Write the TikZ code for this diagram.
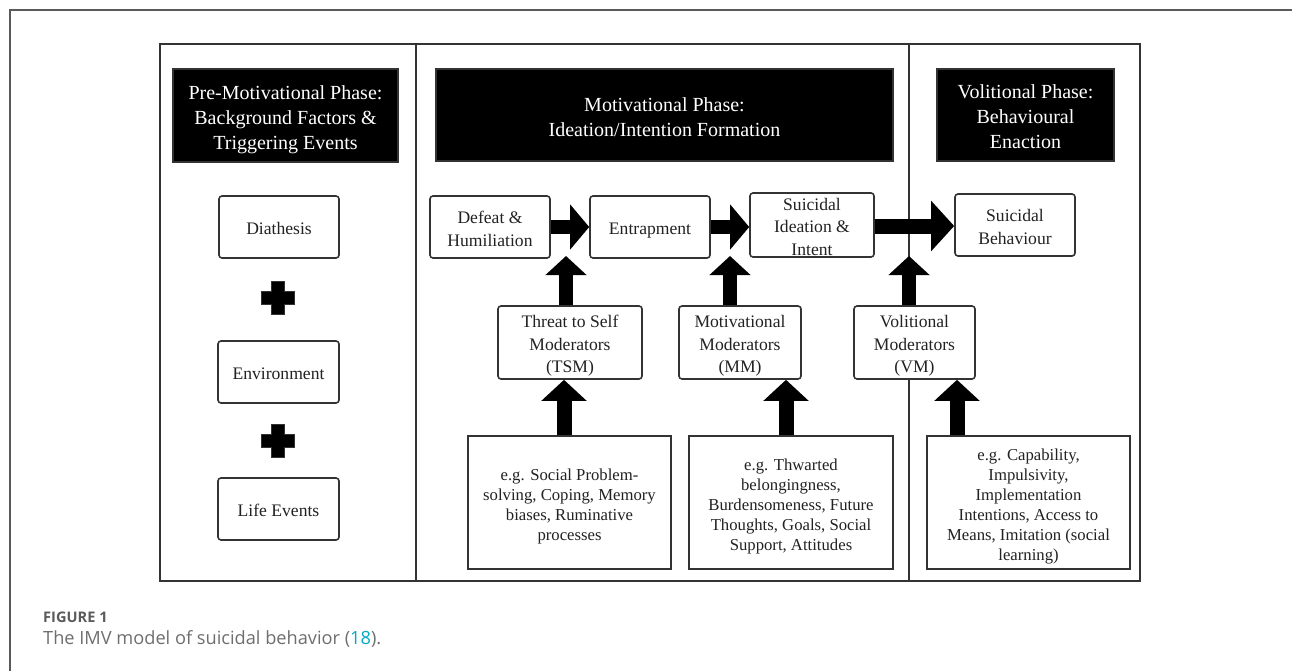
\documentclass[tikz,border=0pt]{standalone}
\usepackage{fontspec}
\setmainfont{Liberation Serif}
\newfontfamily\capfont{Open Sans}
\usetikzlibrary{arrows.meta,calc}
\definecolor{edge}{HTML}{333333}
\definecolor{txt}{HTML}{222222}
\definecolor{capgrey}{HTML}{6E6E6E}
\definecolor{capdark}{HTML}{5A5A5A}
\definecolor{linkcyan}{HTML}{00A9C2}
% struts that fix the first line's height and the last line's depth
\newcommand\fs{\rule{0pt}{1.16em}}
\newcommand\ls{\rule[-0.26em]{0pt}{0.26em}}
\tikzset{
  phasebox/.style={draw=edge, line width=1.4pt, fill=black, text=white, align=center,
    font=\fontsize{20}{25}\selectfont, inner sep=0pt},
  roundbox/.style={draw=edge, line width=1.6pt, rounded corners=3pt, fill=white, text=txt,
    align=center, font=\fontsize{17.6}{22.5}\selectfont, inner sep=0pt},
  examplebox/.style={draw=edge, line width=2pt, fill=white, text=txt, align=center,
    font=\fontsize{16.7}{20}\selectfont, inner sep=0pt},
  framestyle/.style={draw=edge, line width=1.6pt},
  harrow/.style={line width=14pt, draw=black, -{Triangle[width=44pt,length=19pt]}},
  bigharrow/.style={line width=15pt, draw=black, -{Triangle[width=49pt,length=23pt]}},
  varrow/.style={line width=14pt, draw=black, -{Triangle[width=40pt,length=19pt]}},
  bigvarrow/.style={line width=15pt, draw=black, -{Triangle[width=44pt,length=21pt]}},
  plussign/.style={fill=black, draw=edge, line width=0.8pt},
}
\begin{document}
\begin{tikzpicture}[x=1pt, y=-1pt]
\useasboundingbox (0,0) rectangle (1292,671);
% outer figure frame (bottom/right out of view)
\draw[draw=capdark, line width=1.3pt] (10,700) -- (10,10) -- (1300,10);
% diagram frame and phase dividers
\draw[framestyle] (160,44) rectangle (1140,581);
\draw[framestyle] (416,44) -- (416,581);
\draw[framestyle] (909,44) -- (909,581);

% phase headers
\node[phasebox, minimum width=225pt, minimum height=93pt] (pre) at (285.5,115.5)
  {\fs Pre-Motivational Phase:\\Background Factors \&\\Triggering Events\ls};
\node[phasebox, minimum width=457pt, minimum height=92pt] (mot) at (664.5,115)
  {\fs Motivational Phase:\\Ideation/Intention Formation\ls};
\node[phasebox, minimum width=177pt, minimum height=92pt] (vol) at (1025.5,115)
  {\fs Volitional Phase:\\Behavioural\\Enaction\ls};

% pre-motivational boxes
\node[roundbox, minimum width=120pt, minimum height=62pt] (dia) at (279,227) {\fs Diathesis\ls};
\node[roundbox, minimum width=121pt, minimum height=62pt] (env) at (278.5,372) {\fs Environment\ls};
\node[roundbox, minimum width=121pt, minimum height=62pt] (life) at (278.5,509) {\fs Life Events\ls};

% plus signs
\coordinate (p1) at (278,298);
\coordinate (p2) at (278,441);
\foreach \p in {p1,p2}{
  \draw[plussign] ($(\p)+(-6.5,-16.5)$) -- ++(13,0) -- ++(0,10) -- ++(10,0) -- ++(0,13) -- ++(-10,0)
    -- ++(0,10) -- ++(-13,0) -- ++(0,-10) -- ++(-10,0) -- ++(0,-13) -- ++(10,0) -- cycle;
}

% motivational chain
\node[roundbox, minimum width=120pt, minimum height=62pt] (def) at (490,227) {\fs Defeat \&\\Humiliation\ls};
\node[roundbox, minimum width=120pt, minimum height=62pt] (ent) at (650,227) {\fs Entrapment\ls};
\node[roundbox, minimum width=124pt, minimum height=64pt] (sii) at (812,225) {\rule{0pt}{16pt}Suicidal\\Ideation \&\\Intent};
\node[roundbox, minimum width=120pt, minimum height=62pt] (sb) at (1015,225) {\fs Suicidal\\Behaviour\ls};

% moderators
\node[roundbox, minimum width=144pt, minimum height=73pt] (tsm) at (570,342.5) {\fs Threat to Self\\Moderators\\(TSM)\ls};
\node[roundbox, minimum width=122pt, minimum height=73pt] (mm) at (740,342.5) {\fs Motivational\\Moderators\\(MM)\ls};
\node[roundbox, minimum width=121pt, minimum height=73pt] (vm) at (914.5,342.5) {\fs Volitional\\Moderators\\(VM)\ls};

% example boxes
\node[examplebox, minimum width=203pt, minimum height=133pt] (tsmex) at (569.5,502.5)
  {\fs e.g. Social Problem-\\solving, Coping, Memory\\biases, Ruminative\\processes\ls};
\node[examplebox, minimum width=204pt, minimum height=133pt] (mmex) at (791,502.5)
  {\fs e.g. Thwarted\\belongingness,\\Burdensomeness, Future\\Thoughts, Goals, Social\\Support, Attitudes\ls};
\node[examplebox, minimum width=203pt, minimum height=133pt] (vmex) at (1028.5,502.5)
  {\fs e.g. Capability,\\Impulsivity,\\Implementation\\Intentions, Access to\\Means, Imitation (social\\learning)\ls};

% horizontal block arrows
\draw[harrow] (def.east |- 0,227) -- (ent.west |- 0,227);
\draw[harrow] (ent.east |- 0,227) -- (sii.west |- 0,227);
\draw[bigharrow] (sii.east |- 0,226) -- (sb.west |- 0,226);

% moderator arrows onto the transitions
\coordinate (m1) at (566,256);
\coordinate (m2) at (730,256);
\coordinate (m3) at (909,256);
\draw[varrow] (tsm.north -| m1) -- (m1);
\draw[varrow] (mm.north -| m2) -- (m2);
\draw[varrow] (vm.north -| m3) -- (m3);

% example arrows up to moderators
\coordinate (b1) at (564,420);
\coordinate (b2) at (786,420);
\coordinate (b3) at (957,420);
\draw[bigvarrow] (tsmex.north -| b1) -- (tsm.south -| b1);
\draw[bigvarrow] (mmex.north -| b2) -- (mm.south -| b2);
\draw[bigvarrow] (vmex.north -| b3) -- (vm.south -| b3);

% caption
\node[anchor=west, inner sep=0pt, text=capdark, font=\capfont\fontsize{14.6}{17}\selectfont\bfseries] (figlabel)
  at (43,617) {FIGURE 1};
\node[anchor=west, inner sep=0pt, text=capgrey, font=\capfont\fontsize{18.2}{22}\selectfont] (caption)
  at (43,639) {The IMV model of suicidal behavior (\textcolor{linkcyan}{18}).};
\end{tikzpicture}
\end{document}
